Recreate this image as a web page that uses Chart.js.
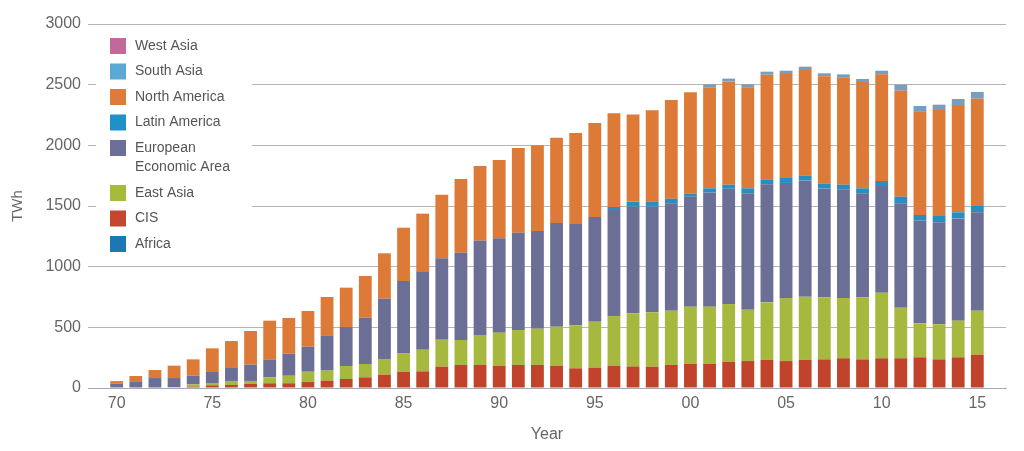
<!DOCTYPE html>
<html>
<head>
<meta charset="utf-8">
<title>TWh by region</title>
<script src="https://cdn.jsdelivr.net/npm/chart.js@4/dist/chart.umd.min.js"></script>
<style>
    html, body { margin: 0; padding: 0; background: #fff; }
</style>
</head>
<body>
<canvas id="regionChart" width="1024" height="451"></canvas>
<script>
var years = [1970, 1971, 1972, 1973, 1974, 1975, 1976, 1977, 1978, 1979,
    1980, 1981, 1982, 1983, 1984, 1985, 1986, 1987, 1988, 1989,
    1990, 1991, 1992, 1993, 1994, 1995, 1996, 1997, 1998, 1999,
    2000, 2001, 2002, 2003, 2004, 2005, 2006, 2007, 2008, 2009,
    2010, 2011, 2012, 2013, 2014, 2015];

var africa = [0, 0, 0, 0, 0, 0, 0, 0, 0, 0,
    0, 0, 0, 0, 0, 0, 0, 0, 0, 0,
    0, 0, 0, 0, 0, 0, 0, 0, 0, 0,
    0, 0, 0, 0, 0, 0, 0, 0, 0, 0,
    0, 0, 0, 0, 0, 0];
var cis = [0, 0, 0, 0, 12, 22, 25, 35, 39, 39,
    49, 60, 74, 88, 110, 134, 137, 176, 190, 190,
    184, 190, 190, 184, 162, 168, 184, 178, 176, 190,
    198, 198, 216, 222, 231, 222, 231, 236, 245, 236,
    245, 245, 253, 236, 253, 274];
var eastAsia = [0, 0, 0, 8, 18, 19, 33, 23, 49, 62,
    85, 83, 107, 110, 129, 154, 179, 222, 206, 247,
    272, 288, 299, 321, 355, 378, 409, 438, 448, 447,
    472, 472, 476, 423, 475, 520, 521, 512, 497, 512,
    541, 417, 280, 289, 302, 363];
var eea = [35, 49, 82, 74, 71, 97, 113, 134, 148, 182,
    206, 291, 322, 381, 497, 594, 640, 671, 719, 777,
    778, 802, 805, 855, 835, 863, 874, 878, 870, 885,
    906, 940, 950, 960, 973, 948, 957, 895, 896, 857,
    879, 860, 846, 841, 843, 811];
var latinAmerica = [0, 0, 0, 0, 0, 0, 0, 0, 0, 0,
    0, 0, 0, 0, 0, 0, 0, 0, 0, 0,
    0, 0, 0, 0, 0, 0, 25, 40, 42, 38,
    25, 36, 33, 41, 41, 41, 41, 41, 38, 41,
    41, 55, 47, 52, 50, 52];
var northAmerica = [22, 50, 66, 102, 135, 189, 216, 278, 319, 294,
    295, 316, 324, 344, 374, 439, 481, 524, 608, 616,
    645, 698, 706, 703, 750, 775, 772, 720, 753, 814,
    836, 832, 850, 832, 862, 857, 871, 885, 885, 876,
    879, 873, 854, 873, 884, 884];
var southAsia = [0, 0, 0, 0, 0, 0, 0, 0, 0, 0,
    0, 0, 0, 0, 0, 0, 0, 0, 0, 0,
    0, 0, 0, 0, 0, 0, 0, 0, 0, 0,
    0, 25, 25, 25, 25, 27, 27, 25, 24, 25,
    30, 50, 44, 44, 50, 56];
var westAsia = [0, 0, 0, 0, 0, 0, 0, 0, 0, 0,
    0, 0, 0, 0, 0, 0, 0, 0, 0, 0,
    0, 0, 0, 0, 0, 0, 0, 0, 0, 0,
    0, 0, 0, 0, 0, 0, 0, 0, 0, 0,
    0, 0, 0, 0, 0, 0];

var yTicks = [0, 500, 1000, 1500, 2000, 2500, 3000];

window.onload = function () {
    regionChart();
};

// legend drawn by hand: white box over the grid, items top to bottom
var legendBox = {
    id: 'legendBox',
    beforeDatasetsDraw: function (chart) {
        var ctx = chart.ctx;
        ctx.save();
        ctx.fillStyle = '#ffffff';
        ctx.fillRect(96, 33, 156, 224);
        ctx.restore();
    },
    afterDraw: function (chart) {
        var ctx = chart.ctx;
        var sets = chart.data.datasets.slice().reverse();
        var y = 46;
        ctx.save();
        ctx.font = '14px "Liberation Sans", Arial, sans-serif';
        ctx.textBaseline = 'middle';
        sets.forEach(function (ds) {
            var lines = wrap(ctx, ds.label, 100);
            ctx.fillStyle = ds.legendColor;
            ctx.fillRect(110, y - 8, 16, 16);
            ctx.fillStyle = '#555555';
            lines.forEach(function (line, i) {
                ctx.fillText(line, 135, y + i * 19.5);
            });
            y += 25.5 + (lines.length - 1) * 19.5;
        });
        ctx.restore();
    }
};

function wrap(ctx, text, maxWidth) {
    var words = text.split(' ');
    var lines = [];
    var cur = '';
    words.forEach(function (w) {
        var test = cur ? cur + ' ' + w : w;
        if (cur && ctx.measureText(test).width > maxWidth) {
            lines.push(cur);
            cur = w;
        } else {
            cur = test;
        }
    });
    lines.push(cur);
    return lines;
}

function regionChart() {
    var data = {
        labels: years,
        datasets: [
            { label: 'Africa', data: africa, backgroundColor: '#1f74a8', legendColor: '#1c78b0' },
            { label: 'CIS', data: cis, backgroundColor: '#c1432b', legendColor: '#c3462f' },
            { label: 'East Asia', data: eastAsia, backgroundColor: '#a6b83e', legendColor: '#a5bb3c' },
            { label: 'European Economic Area', data: eea, backgroundColor: '#6b6f95', legendColor: '#6c6f97' },
            { label: 'Latin America', data: latinAmerica, backgroundColor: '#2a8dc0', legendColor: '#1f91c6' },
            { label: 'North America', data: northAmerica, backgroundColor: '#de7a37', legendColor: '#de7a3a' },
            { label: 'South Asia', data: southAsia, backgroundColor: '#7b9dbd', legendColor: '#5ca8d5' },
            { label: 'West Asia', data: westAsia, backgroundColor: '#c46b98', legendColor: '#c1699a' }
        ]
    };

    Chart.defaults.font.family = '"Liberation Sans", Arial, sans-serif';
    Chart.defaults.color = '#666666';

    new Chart(document.getElementById('regionChart'), {
        type: 'bar',
        data: data,
        plugins: [legendBox],
        options: {
            responsive: false,
            animation: false,
            layout: {
                padding: { top: 24, right: 18, left: 0, bottom: 0 }
            },
            datasets: {
                bar: {
                    categoryPercentage: 1,
                    barPercentage: 0.67,
                    borderWidth: 0
                }
            },
            plugins: {
                legend: { display: false },
                tooltip: { enabled: false }
            },
            scales: {
                x: {
                    type: 'linear',
                    stacked: true,
                    offset: false,
                    min: 1968.5,
                    max: 2016.5,
                    afterFit: function (scale) { scale.height = 63; },
                    grid: { display: false, offset: false },
                    border: { display: true, color: '#a4acb3', width: 1 },
                    ticks: {
                        stepSize: 5,
                        includeBounds: false,
                        padding: -2,
                        font: { size: 16 },
                        color: '#666666',
                        callback: function (v) {
                            return String(v % 100).padStart(2, '0');
                        }
                    },
                    title: {
                        display: true,
                        text: 'Year',
                        color: '#666666',
                        font: { size: 16 },
                        padding: { top: 0, bottom: 7 }
                    }
                },
                y: {
                    stacked: true,
                    min: yTicks[0],
                    max: yTicks[yTicks.length - 1],
                    afterFit: function (scale) { scale.width = 88; },
                    afterBuildTicks: function (scale) {
                        scale.ticks = yTicks.map(function (v) { return { value: v }; });
                    },
                    grid: { color: '#b5b5b5', lineWidth: 1, drawTicks: false },
                    border: { display: false },
                    ticks: {
                        padding: 7,
                        font: { size: 16 },
                        color: '#666666',
                        callback: function (v) { return String(v); }
                    },
                    title: {
                        display: true,
                        text: 'TWh',
                        color: '#666666',
                        font: { size: 15 },
                        padding: { top: 9, bottom: 0 }
                    }
                }
            }
        }
    });
}
</script>
</body>
</html>
